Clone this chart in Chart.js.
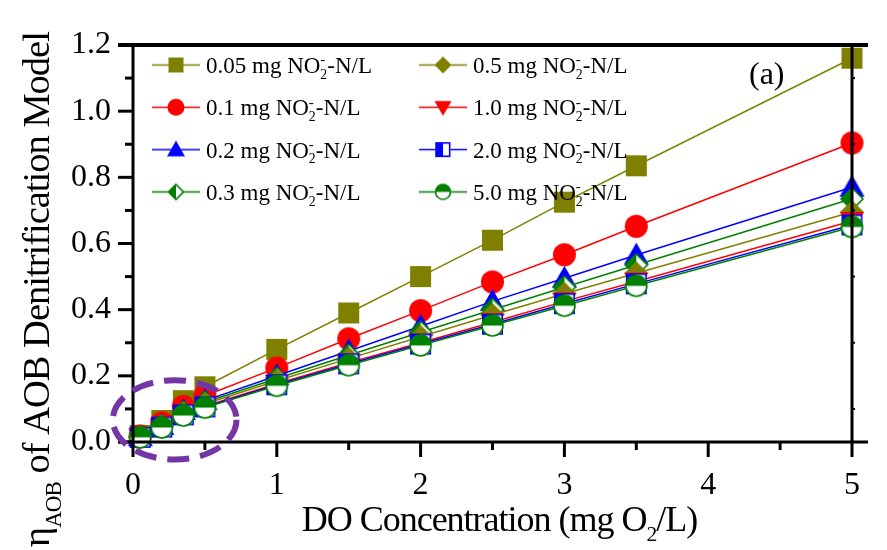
<!DOCTYPE html>
<html>
<head>
<title>AOB Denitrification Model</title>
<script src="https://cdn.jsdelivr.net/npm/chart.js"></script>
<style>
  body { margin: 0; background: #fff; }
</style>
</head>
<body>
<canvas id="myChart" width="887" height="550"></canvas>
<script>
// DO concentration (x) and model output for each nitrite level
const doValues = [0.05, 0.2, 0.35, 0.5, 1, 1.5, 2, 2.5, 3, 3.5, 5];
const no2Levels = ['0.05', '0.1', '0.2', '0.3', '0.5', '1.0', '2.0', '5.0'];
const eta005 = [0.02, 0.065, 0.125, 0.167, 0.28, 0.39, 0.50, 0.61, 0.725, 0.835, 1.16];
const eta01 = [0.018, 0.058, 0.108, 0.14, 0.224, 0.312, 0.397, 0.484, 0.566, 0.652, 0.904];
const eta02 = [0.016, 0.05, 0.095, 0.125, 0.20, 0.275, 0.35, 0.425, 0.495, 0.565, 0.77];
const eta03 = [0.015, 0.048, 0.09, 0.12, 0.192, 0.262, 0.332, 0.40, 0.468, 0.535, 0.735];
const eta05 = [0.015, 0.047, 0.087, 0.115, 0.185, 0.252, 0.318, 0.384, 0.448, 0.51, 0.695];
const eta10 = [0.014, 0.045, 0.083, 0.108, 0.176, 0.24, 0.30, 0.362, 0.425, 0.485, 0.668];
const eta20 = [0.014, 0.045, 0.082, 0.106, 0.173, 0.236, 0.296, 0.356, 0.418, 0.478, 0.656];
const eta50 = [0.014, 0.044, 0.08, 0.104, 0.17, 0.232, 0.292, 0.352, 0.412, 0.472, 0.65];
const xTicks = [0, 1, 2, 3, 4, 5];
const yTicks = [0, 0.2, 0.4, 0.6, 0.8, 1.0, 1.2];

const allSeries = [eta005, eta01, eta02, eta03, eta05, eta10, eta20, eta50];
const colors = ['#808000', '#ff0000', '#0000ff', '#008000', '#808000', '#ff0000', '#0000ff', '#008000'];
const shapes = ['square', 'circle', 'triUp', 'halfDiamond', 'diamond', 'triDown', 'halfSquare', 'halfCircle'];
const sizes = [21, 23, 25, 24, 24, 24, 21, 23];

const SERIF = '"Liberation Serif", "Times New Roman", serif';

function makeMarker(kind, color, s, lineW) {
  const w = lineW || s + 4, h = s + 4;
  const c = document.createElement('canvas');
  c.width = w; c.height = h;
  const g = c.getContext('2d');
  const cx = w / 2, cy = h / 2, r = s / 2;
  if (lineW) {
    g.strokeStyle = color; g.lineWidth = 1.5;
    g.beginPath(); g.moveTo(0, cy); g.lineTo(w, cy); g.stroke();
  }
  g.fillStyle = color; g.strokeStyle = color; g.lineWidth = 1.6;
  g.beginPath();
  let r2 = r - 1;
  switch (kind) {
    case 'square':
      g.fillRect(cx - r, cy - r, 2 * r, 2 * r);
      break;
    case 'circle':
      g.arc(cx, cy, r, 0, Math.PI * 2); g.fill();
      break;
    case 'triUp':
      g.moveTo(cx, cy - r); g.lineTo(cx + r, cy + r * 0.75); g.lineTo(cx - r, cy + r * 0.75); g.closePath(); g.fill();
      break;
    case 'triDown':
      g.moveTo(cx, cy + r); g.lineTo(cx + r, cy - r * 0.75); g.lineTo(cx - r, cy - r * 0.75); g.closePath(); g.fill();
      break;
    case 'diamond':
      g.moveTo(cx, cy - r); g.lineTo(cx + r, cy); g.lineTo(cx, cy + r); g.lineTo(cx - r, cy); g.closePath(); g.fill();
      break;
    case 'halfDiamond':
      g.fillStyle = '#fff';
      g.moveTo(cx, cy - r2); g.lineTo(cx + r2, cy); g.lineTo(cx, cy + r2); g.lineTo(cx - r2, cy); g.closePath(); g.fill();
      g.beginPath(); g.fillStyle = color;
      g.moveTo(cx, cy - r2); g.lineTo(cx, cy + r2); g.lineTo(cx - r2, cy); g.closePath(); g.fill();
      g.beginPath();
      g.moveTo(cx, cy - r2); g.lineTo(cx + r2, cy); g.lineTo(cx, cy + r2); g.lineTo(cx - r2, cy); g.closePath(); g.stroke();
      break;
    case 'halfSquare':
      g.fillStyle = '#fff'; g.fillRect(cx - r, cy - r, 2 * r, 2 * r);
      g.fillStyle = color; g.fillRect(cx - r, cy - r, r, 2 * r);
      g.strokeRect(cx - r + 0.8, cy - r + 0.8, 2 * r - 1.6, 2 * r - 1.6);
      break;
    case 'halfCircle':
      g.fillStyle = '#fff'; g.arc(cx, cy, r2, 0, Math.PI * 2); g.fill();
      g.beginPath(); g.fillStyle = color; g.arc(cx, cy, r2, Math.PI, Math.PI * 2); g.closePath(); g.fill();
      g.beginPath(); g.arc(cx, cy, r2, 0, Math.PI * 2); g.stroke();
      break;
  }
  return c;
}

// draw a row of text pieces with sub/superscripts; pieces: [text, scale, dyEm, advance]
function drawRuns(ctx, pieces, x, y, size) {
  let cur = x;
  pieces.forEach(p => {
    const [t, sc, dy, adv] = p;
    ctx.font = (size * sc) + 'px ' + SERIF;
    ctx.fillText(t, cur, y + dy * size);
    if (adv !== false) cur += ctx.measureText(t).width;
  });
  return cur - x;
}
function runsWidth(ctx, pieces, size) {
  let w = 0;
  pieces.forEach(p => {
    ctx.font = (size * p[1]) + 'px ' + SERIF;
    if (p[3] !== false) w += ctx.measureText(p[0]).width;
  });
  return w;
}
function legendPieces(level) {
  return [[level + ' mg NO', 1, 0], ['-', 0.65, -0.38, false], ['2', 0.6, 0.25], ['-N/L', 1, 0]];
}

const datasets = allSeries.map((vals, i) => ({
  label: no2Levels[i] + ' mg NO2- -N/L',
  data: doValues.map((x, j) => ({ x: x, y: vals[j] })),
  borderColor: colors[i],
  backgroundColor: colors[i],
  borderWidth: 1.5,
  pointStyle: makeMarker(shapes[i], colors[i], sizes[i]),
  pointRadius: 11,
  clip: false,
  order: allSeries.length - i
}));

const legendMarks = shapes.map((s, i) => makeMarker(s, colors[i], Math.round(sizes[i] * 0.72), 48));

const overlay = {
  id: 'overlay',
  afterDraw(chart) {
    const ctx = chart.ctx, xs = chart.scales.x, ys = chart.scales.y;
    const L = xs.left, R = xs.right, T = ys.top, B = ys.bottom;
    ctx.save();
    ctx.strokeStyle = '#000';
    ctx.lineCap = 'butt';
    const seg = (x1, y1, x2, y2, w) => {
      ctx.lineWidth = w; ctx.beginPath(); ctx.moveTo(x1, y1); ctx.lineTo(x2, y2); ctx.stroke();
    };
    // frame
    seg(L - 15, T, R + 16, T, 4);
    seg(L - 15, B, R + 16, B, 3);
    seg(L, T - 2, L, B + 1.5, 3);
    seg(R, T - 2, R, B + 1.5, 3);
    // y ticks
    for (let k = 0; k <= 12; k++) {
      const py = ys.getPixelForValue(k / 10);
      if (k % 2 === 0) seg(L - 15, py, L, py, 3); else seg(L - 8, py, L, py, 3);
      if (k % 2 === 1) seg(R, py, R + 3, py, 2);
    }
    // x ticks
    for (let k = 0; k <= 10; k++) {
      const px = xs.getPixelForValue(k / 2);
      if (k % 2 === 0) seg(px, B, px, B + 15, 3); else seg(px, B, px, B + 8, 3);
    }

    // legend
    ctx.fillStyle = '#000';
    ctx.textBaseline = 'alphabetic';
    ctx.textAlign = 'left';
    no2Levels.forEach((lv, i) => {
      const col = Math.floor(i / 4), row = i % 4;
      const mx = col === 0 ? 176 : 443;
      const my = T + 20 + row * 42.3;
      const img = legendMarks[i];
      ctx.drawImage(img, mx - img.width / 2, my - img.height / 2);
      drawRuns(ctx, legendPieces(lv), mx + 30, my + 8, 23);
    });

    // panel label
    ctx.font = '32px ' + SERIF;
    ctx.fillText('(a)', 749, T + 39);

    // tighter spacing for the axis titles
    ctx.letterSpacing = '-1px';
    // x axis title
    const xt = [['DO Concentration (mg O', 1, 0], ['2', 0.6, 0.28], ['/L)', 1, 0]];
    const xw = runsWidth(ctx, xt, 36);
    drawRuns(ctx, xt, (L + R) / 2 - xw / 2 + 7, 531, 36);

    // y axis title
    const yt = [['\u03b7', 1, 0], ['AOB', 0.6, 0.3], [' of AOB Denitrification Model', 1, 0]];
    ctx.save();
    ctx.translate(49, 547);
    ctx.rotate(-Math.PI / 2);
    drawRuns(ctx, yt, 0, 0, 38.5);
    ctx.restore();
    ctx.letterSpacing = '0px';

    // dashed ellipse highlighting the low-DO region
    const ex = xs.getPixelForValue(0.29), ey = ys.getPixelForValue(0.067);
    const rx = xs.getPixelForValue(0.43) - xs.getPixelForValue(0);
    const ry = ys.getPixelForValue(0) - ys.getPixelForValue(0.12);
    ctx.strokeStyle = '#7436a4';
    ctx.lineWidth = 6;
    ctx.setLineDash([22, 11]);
    ctx.beginPath();
    ctx.ellipse(ex, ey, rx, ry, 0, 0, Math.PI * 2);
    ctx.stroke();
    ctx.restore();
  }
};

const config = {
  type: 'line',
  data: { datasets: datasets },
  options: {
    responsive: false,
    animation: false,
    events: [],
    layout: { padding: { left: 0, right: 35, top: 45, bottom: 0 } },
    plugins: { legend: { display: false }, tooltip: { enabled: false }, title: { display: false } },
    scales: {
      x: {
        type: 'linear', min: 0, max: 5,
        afterFit: s => { s.height = 108; },
        afterBuildTicks: s => { s.ticks = xTicks.map(v => ({ value: v })); },
        grid: { display: false, drawTicks: false },
        border: { display: false },
        ticks: { padding: 24, color: '#000', font: { family: SERIF, size: 32 }, maxRotation: 0,
                 callback: v => String(v) }
      },
      y: {
        type: 'linear', min: 0, max: 1.2,
        afterFit: s => { s.width = 133; },
        afterBuildTicks: s => { s.ticks = yTicks.map(v => ({ value: v })); },
        grid: { display: false, drawTicks: false },
        border: { display: false },
        ticks: { padding: 22, color: '#000', font: { family: SERIF, size: 32 },
                 callback: v => v.toFixed(1) }
      }
    }
  },
  plugins: [overlay]
};

// make sure the serif face is ready before the canvas draws text
const ready = document.fonts && document.fonts.load
  ? Promise.all([document.fonts.load('32px "Liberation Serif"'), document.fonts.load('20px "Liberation Serif"')]).catch(() => {})
  : Promise.resolve();
ready.then(() => {
  var myChart = new Chart(document.getElementById('myChart'), config);
});
</script>
</body>
</html>
